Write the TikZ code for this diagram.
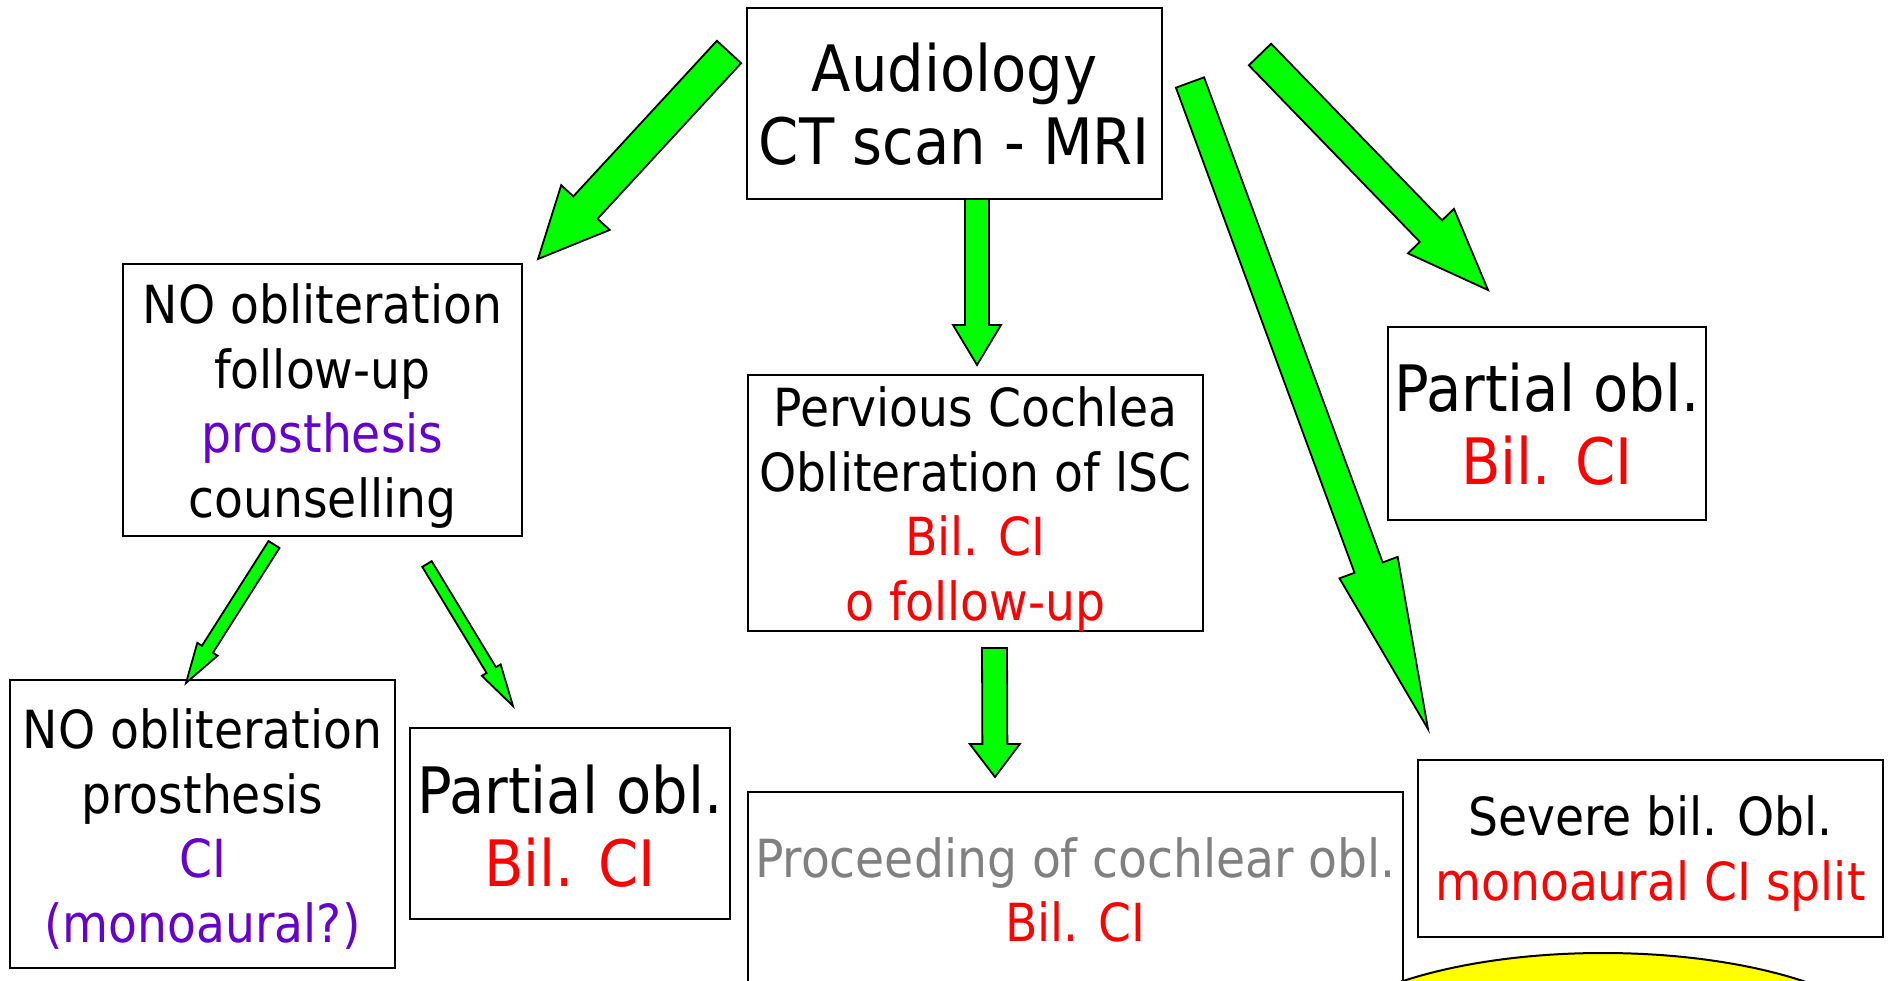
\documentclass[tikz,border=0pt]{standalone}
\usepackage{fontspec}
\setmainfont{DejaVu Sans Condensed}
\usetikzlibrary{calc,shapes.geometric}
\definecolor{cgreen}{RGB}{0,255,0}
\definecolor{cpurple}{RGB}{102,0,204}
\definecolor{cred}{RGB}{255,0,0}
\definecolor{cgray}{RGB}{128,128,128}
\definecolor{cyellow}{RGB}{255,255,0}
\newcommand\mfont{\fontsize{52.5}{64.5}\selectfont}
\newcommand\lfont{\fontsize{64}{73}\selectfont}
\newcommand\blockarrow[5]{%
  \coordinate (ba-h) at ($(#2)!#5!(#1)$);
  \draw[barrow] ($(#1)!#3!90:(#2)$) -- ($(ba-h)!#3!-90:(#1)$) -- ($(ba-h)!#4!-90:(#1)$) -- (#2)
     -- ($(ba-h)!#4!90:(#1)$) -- ($(ba-h)!#3!90:(#1)$) -- ($(#1)!#3!-90:(#2)$) -- cycle;}
\begin{document}
\begin{tikzpicture}[x=1pt,y=-1pt,
  box/.style={draw=black, line width=2pt, inner sep=0pt, rectangle},
  txt/.style={inner sep=0pt, align=center},
  barrow/.style={fill=cgreen, draw=black, line width=1.8pt, line join=miter}]
\useasboundingbox (0,0) rectangle (1892,980);
\clip (0,0) rectangle (1892,980);
\fill[white] (0,0) rectangle (1892,980);

% goal ellipse
\node[ellipse, draw=black, line width=2pt, fill=cyellow, minimum width=600pt, minimum height=220pt, inner sep=0pt] (goal) at (1603,1063) {};

% boxes
\node[box, minimum width=415pt, minimum height=191pt] (audio) at (954.5,103.5) {};
\node[box, minimum width=399pt, minimum height=272pt] (noobl) at (322.5,400) {};
\node[box, minimum width=455pt, minimum height=256pt] (perv) at (975.5,503) {};
\node[box, minimum width=318pt, minimum height=193pt] (partr) at (1547,423.5) {};
\node[box, minimum width=385pt, minimum height=288pt] (noobl2) at (202.5,824) {};
\node[box, minimum width=320pt, minimum height=191pt] (partl) at (570,823.5) {};
\node[box, minimum width=655pt, minimum height=198pt] (proc) at (1075.5,891) {};
\node[box, minimum width=465pt, minimum height=177pt] (sev) at (1650.5,848.5) {};

% texts
\node[txt, font=\lfont] (audio-t) at ($(audio)+(0,1)$) {Audiology\\CT scan - MRI};
\node[txt, font=\mfont] (noobl-t) at ($(noobl)+(0,6)$) {NO obliteration\\follow-up\\\textcolor{cpurple}{prosthesis}\\counselling};
\node[txt, font=\mfont] (perv-t) at ($(perv)+(0,6)$) {Pervious Cochlea\\Obliteration of lSC\\\textcolor{cred}{Bil. CI}\\\textcolor{cred}{o follow-up}};
\node[txt, font=\lfont] (partr-t) at ($(partr)+(0,1)$) {Partial obl.\\\textcolor{cred}{Bil. CI}};
\node[txt, font=\mfont] (noobl2-t) at ($(noobl2)+(0,5)$) {NO obliteration\\prosthesis\\\textcolor{cpurple}{CI}\\\textcolor{cpurple}{(monoaural?)}};
\node[txt, font=\lfont] (partl-t) at ($(partl)+(0,2.5)$) {Partial obl.\\\textcolor{cred}{Bil. CI}};
\node[txt, font=\mfont] (proc-t) at ($(proc)+(0,-1)$) {\textcolor{cgray}{Proceeding of cochlear obl.}\\\textcolor{cred}{Bil. CI}};
\node[txt, font=\mfont] (sev-t) at ($(sev)+(0,5)$) {Severe bil. Obl.\\\textcolor{cred}{monoaural CI split}};

% arrow end points
\coordinate (t1) at (729,52);    \coordinate (p1) at (538,259);
\coordinate (t2) at (977,199);   \coordinate (p2) at (977,365);
\coordinate (t3) at (1190,82.5); \coordinate (p3) at (1428,729);
\coordinate (t4) at (1260,54.5); \coordinate (p4) at (1488,290);
\coordinate (t5) at (274,544.5); \coordinate (p5) at (186,683);
\coordinate (t6) at (427,564);   \coordinate (p6) at (513,706);
\coordinate (t7) at (994.5,648); \coordinate (p7) at (995,777);

\blockarrow{t1}{p1}{16.5pt}{33pt}{70pt}
\blockarrow{t2}{p2}{12pt}{24pt}{40pt}
\blockarrow{t3}{p3}{15pt}{31pt}{172pt}
\blockarrow{t4}{p4}{15.5pt}{32pt}{82pt}
\blockarrow{t5}{p5}{6.5pt}{12pt}{40pt}
\blockarrow{t6}{p6}{5.5pt}{11pt}{42pt}
\blockarrow{t7}{p7}{12.5pt}{25pt}{33pt}
\end{tikzpicture}
\end{document}
